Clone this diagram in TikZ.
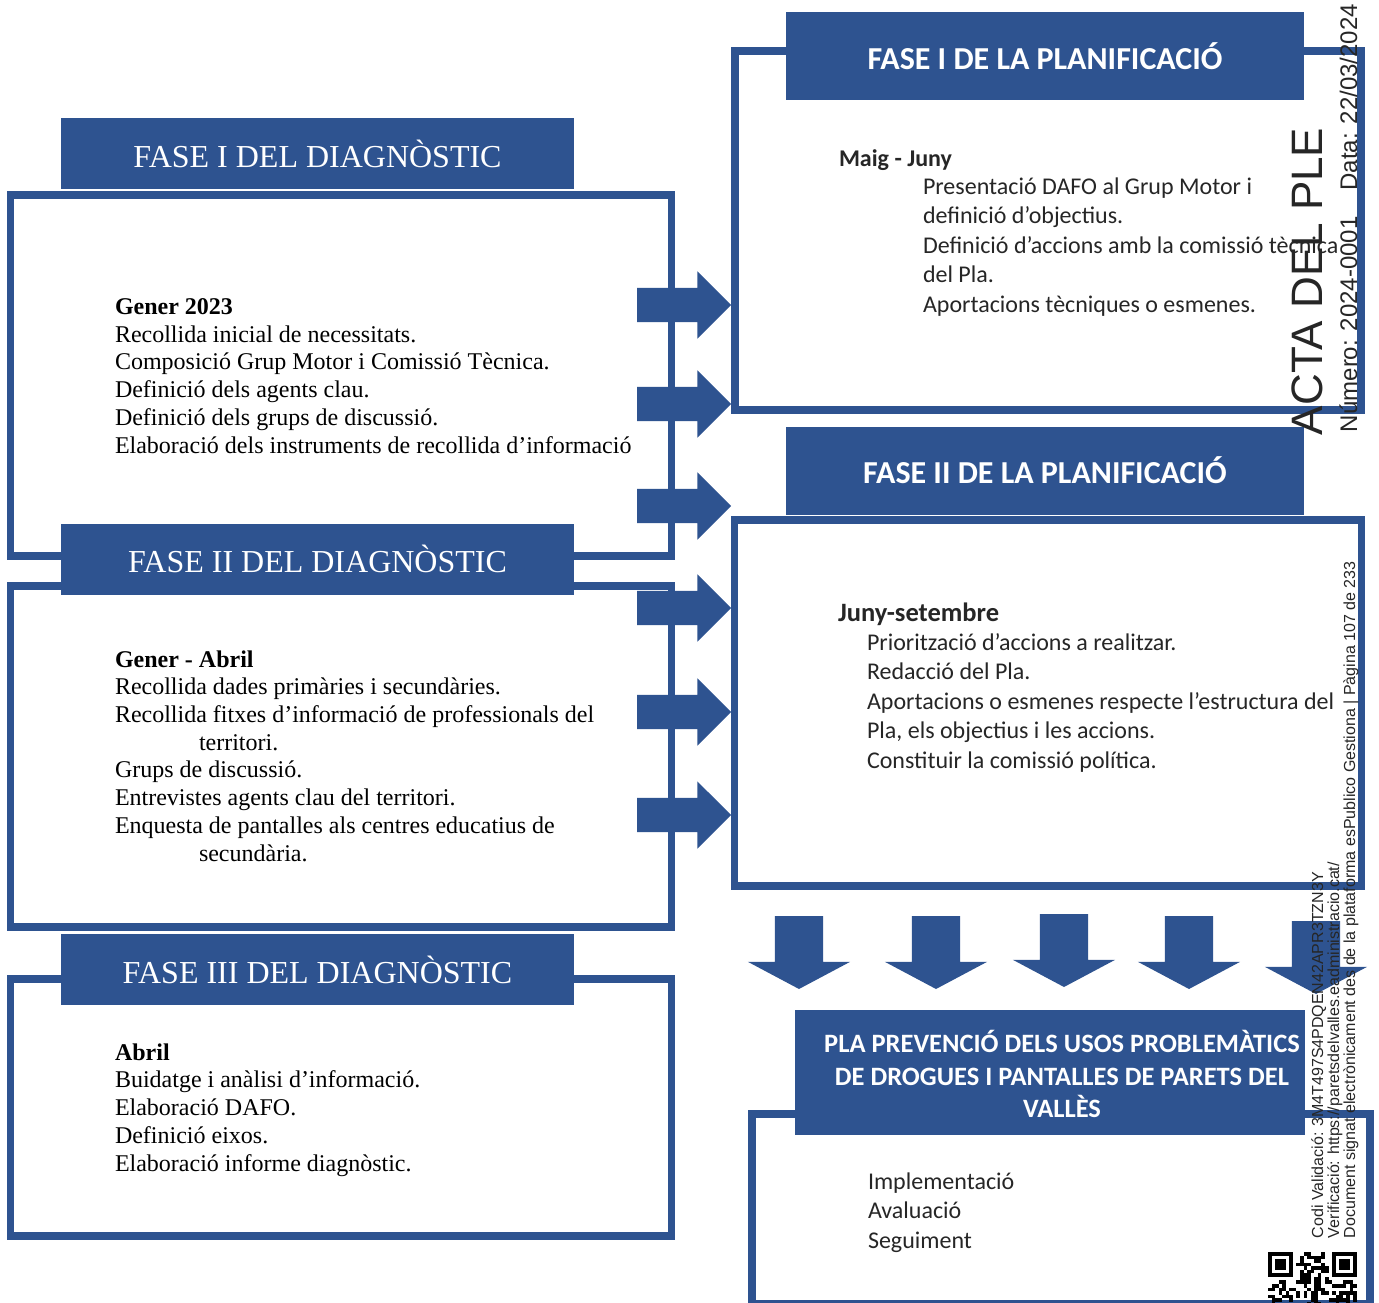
\documentclass[tikz,border=0pt]{standalone}
\usepackage{fontspec}
\setmainfont{Liberation Serif}
\newfontfamily\calibrifont{Carlito}
\newfontfamily\stampfont{Liberation Sans}
\usetikzlibrary{shapes.arrows,positioning}
\definecolor{faseblue}{RGB}{46,83,144}
\definecolor{textgrey}{RGB}{38,38,38}

\def\DiagI{FASE I DEL DIAGNÒSTIC}
\def\DiagII{FASE II DEL DIAGNÒSTIC}
\def\DiagIII{FASE III DEL DIAGNÒSTIC}
\def\PlanI{FASE I DE LA PLANIFICACIÓ}
\def\PlanII{FASE II DE LA PLANIFICACIÓ}

\begin{document}
\begin{tikzpicture}[x=1pt,y=-1pt,
  every node/.style={inner sep=0pt,outer sep=0pt},
  frame/.style={draw=faseblue,line width=7.5pt,fill=white},
  diaghead/.style={fill=faseblue,text=white,minimum width=513pt,minimum height=71pt,
    font=\fontsize{32}{36}\selectfont},
  planhead/.style={fill=faseblue,text=white,minimum width=518pt,minimum height=88pt,
    font=\calibrifont\bfseries\fontsize{32}{36}\selectfont},
  % base of a multi-line node = baseline of its last line
  diagtext/.style={anchor=base west,align=left,font=\fontsize{24}{27.7}\selectfont},
  plantext/.style={anchor=base west,align=left,text=textgrey,
    font=\calibrifont\fontsize{24}{29.4}\selectfont},
  rarrow/.style={single arrow,fill=faseblue,anchor=tail,inner ysep=17pt,
    minimum height=94pt,minimum width=67pt,single arrow head extend=16.5pt},
  darrow/.style={single arrow,fill=faseblue,anchor=tail,shape border rotate=270,
    inner sep=24pt,minimum height=73pt,minimum width=102pt,
    single arrow head extend=27pt,single arrow tip angle=124},
  stamp/.style={rotate=90,anchor=base west,text=black!85,font=\stampfont}]

\useasboundingbox (0,0) rectangle (1379,1303);
\clip (0,0) rectangle (1379,1303);

% Frames
\node[frame,minimum width=661pt,minimum height=361pt] (diag1) at (341,375.5) {};
\node[frame,minimum width=661pt,minimum height=341pt] (diag2) at (341,756.5) {};
\node[frame,minimum width=661pt,minimum height=257pt] (diag3) at (341,1107.5) {};
\node[frame,minimum width=626pt,minimum height=359pt] (plan1) at (1048,230.5) {};
\node[frame,minimum width=627pt,minimum height=366pt] (plan2) at (1048,703) {};
\node[frame,minimum width=618pt,minimum height=190pt] (pla) at (1061,1209) {};

% Phase labels
\node[diaghead] (diag1 head) at (317.5,153.5) {\DiagI};
\node[diaghead] (diag2 head) at (317.5,559) {\DiagII};
\node[diaghead] (diag3 head) at (317.5,969.5) {\DiagIII};
\node[planhead] (plan1 head) at (1045,56) {\PlanI};
\node[planhead] (plan2 head) at (1045,470.5) {\PlanII};
\node[fill=faseblue,minimum width=510pt,minimum height=125pt] (pla head) at (1050,1072.5) {};
\node[text=white,align=center,font=\calibrifont\bfseries\fontsize{26.5}{32.2}\selectfont]
  (pla title) at (1062,1074) {PLA PREVENCIÓ DELS USOS PROBLEMÀTICS\\
  DE DROGUES I PANTALLES DE PARETS DEL\\VALLÈS};

% Horizontal flows
\foreach \y [count=\i] in {305,404,506,608,712,815}
  \node[rarrow] (ar\i) at (637,\y) {};

% Vertical flows
\foreach \x/\y [count=\i] in {799/916,936/916,1064/914,1189/916,1316/921}
  \node[darrow] (ad\i) at (\x,\y) {};

% Diagnosis texts
\node[diagtext] (diag1 text) at (115,453) {\textbf{Gener 2023}\\
  Recollida inicial de necessitats.\\
  Composició Grup Motor i Comissió Tècnica.\\
  Definició dels agents clau.\\
  Definició dels grups de discussió.\\
  Elaboració dels instruments de recollida d’informació};
\node[diagtext] (diag2 text) at (115,861) {\textbf{Gener - Abril}\\
  Recollida dades primàries i secundàries.\\
  Recollida fitxes d’informació de professionals del\\
  \hspace*{84pt}territori.\\
  Grups de discussió.\\
  Entrevistes agents clau del territori.\\
  Enquesta de pantalles als centres educatius de\\
  \hspace*{84pt}secundària.};
\node[diagtext] (diag3 text) at (115,1171) {\textbf{Abril}\\
  Buidatge i anàlisi d’informació.\\
  Elaboració DAFO.\\
  Definició eixos.\\
  Elaboració informe diagnòstic.};

% Planning texts
\node[plantext,font=\calibrifont\bfseries\fontsize{24}{29.4}\selectfont] (plan1 date) at (839,167) {Maig - Juny};
\node[plantext] (plan1 text) at (923,312) {Presentació DAFO al Grup Motor i\\
  definició d’objectius.\\
  Definició d’accions amb la comissió tècnica\\
  del Pla.\\
  Aportacions tècniques o esmenes.};
\node[plantext,font=\calibrifont\bfseries\fontsize{26.5}{30}\selectfont] (plan2 date) at (838,621) {Juny-setembre};
\node[plantext] (plan2 text) at (867,768) {Priorització d’accions a realitzar.\\
  Redacció del Pla.\\
  Aportacions o esmenes respecte l’estructura del\\
  Pla, els objectius i les accions.\\
  Constituir la comissió política.};
\node[plantext] (pla text) at (868,1248) {Implementació\\Avaluació\\Seguiment};

% QR code
\pgfmathsetseed{23}
\foreach \i in {0,...,24}
  \foreach \j in {0,...,14} {
    \pgfmathrandominteger{\q}{0}{1}
    \ifnum\q=1 \fill (1268+3.56*\i,1252+3.56*\j) rectangle ++(3.56,3.56); \fi
  }
\foreach \fx in {1268,1332.1} {
  \fill[white] (\fx-3.56,1252-3.56) rectangle ++(32,32);
  \fill (\fx,1252) rectangle ++(24.92,24.92);
  \fill[white] (\fx+3.56,1255.56) rectangle ++(17.8,17.8);
  \fill (\fx+7.12,1259.12) rectangle ++(10.68,10.68);
}

% Stamp
\node[stamp,font=\stampfont\fontsize{44}{44}\selectfont] (acta) at (1322,435) {ACTA DEL PLE};
\node[stamp,font=\stampfont\fontsize{24}{24}\selectfont] (acta num) at (1357,432)
  {Número: 2024-0001\hspace{26pt}Data: 22/03/2024};
\node[stamp,font=\stampfont\fontsize{16}{16}\selectfont] (codi) at (1323,1238)
  {Codi Validació: 3M4T497S4PDQEN42APR3TZN3Y};
\node[stamp,font=\stampfont\fontsize{16}{16}\selectfont] (verif) at (1339,1238)
  {Verificació: https://paretsdelvalles.eadministracio.cat/};
\node[stamp,font=\stampfont\fontsize{16}{16}\selectfont] (signat) at (1355,1238)
  {Document signat electrònicament des de la plataforma esPublico Gestiona | Pàgina 107 de 233};

\end{tikzpicture}
\end{document}
